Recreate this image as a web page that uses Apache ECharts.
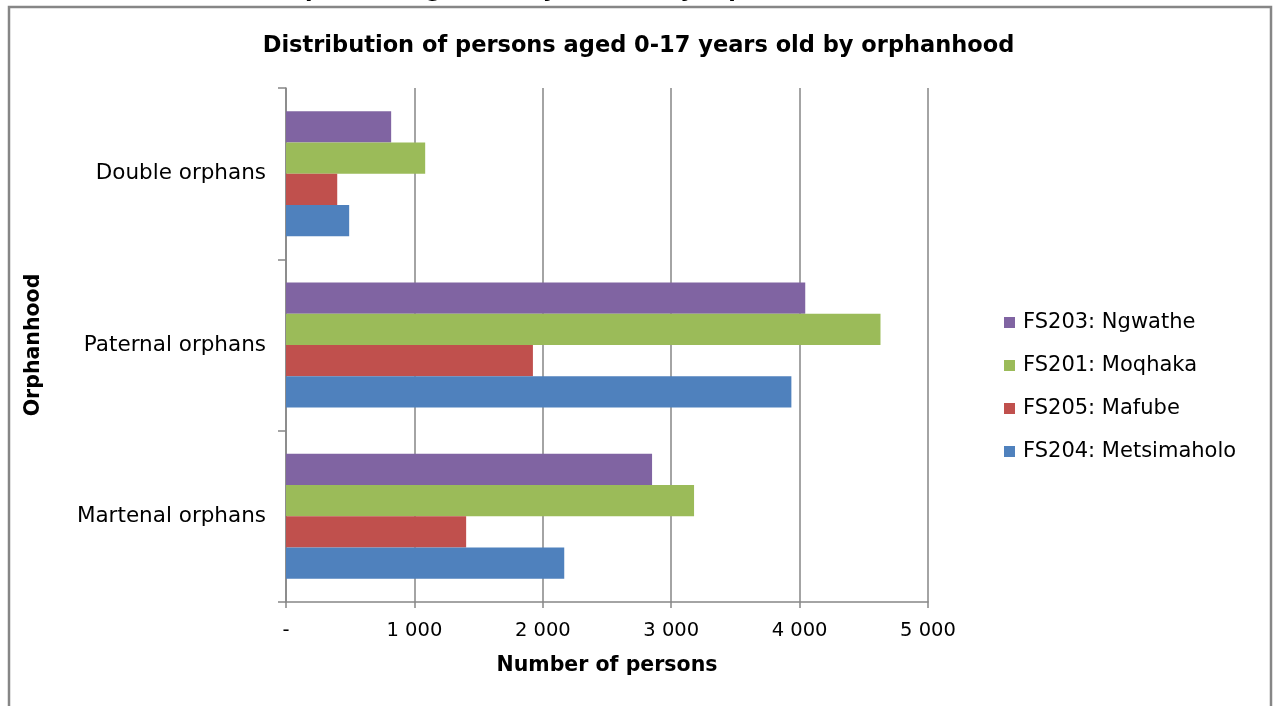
<!DOCTYPE html>
<html>
<head>
<meta charset="utf-8">
<script src="https://cdn.jsdelivr.net/npm/echarts@6/dist/echarts.min.js"></script>
<style>
  html, body { margin: 0; padding: 0; background: #ffffff; }
  #chart { width: 1277px; height: 706px; }
</style>
</head>
<body>
<div id="chart"></div>
<script>
// Orphanhood categories, listed bottom to top along the vertical axis
const categories = ['Martenal orphans', 'Paternal orphans', 'Double orphans'];

// Number of persons aged 0-17 per municipality, in category order
const ngwathe     = [2851, 4044, 819];
const moqhaka     = [3178, 4630, 1084];
const mafube      = [1403, 1923, 399];
const metsimaholo = [2167, 3936, 492];

// Series are drawn top to bottom inside each category band
const seriesNames = ['FS203: Ngwathe', 'FS201: Moqhaka', 'FS205: Mafube', 'FS204: Metsimaholo'];
const seriesValues = [ngwathe, moqhaka, mafube, metsimaholo];
const seriesColors = ['#8064A2', '#9BBB59', '#C0504D', '#4F81BD'];

const xTickMax = 5000;
const xTickStep = 1000;

const titleText = 'Distribution of persons aged 0-17 years old by orphanhood';

const FONT = '"DejaVu Sans", "Liberation Sans", Arial, sans-serif';
const GREY = '#868686';

function formatThousands(v) {
  if (v === 0) return '-';
  return String(v).replace(/\B(?=(\d{3})+(?!\d))/g, ' ');
}

const chart = echarts.init(document.getElementById('chart'), null, { renderer: 'canvas' });

chart.setOption({
  backgroundColor: '#ffffff',
  animation: false,
  title: {
    text: titleText,
    left: 'center',
    top: 30,
    textStyle: { fontFamily: FONT, fontSize: 22.5, fontWeight: 'bold', color: '#000000' }
  },
  graphic: [
    {
      // caption of the page section, running above the chart frame
      type: 'text',
      left: 117,
      top: -20,
      style: {
        text: titleText,
        font: 'bold 22px ' + FONT,
        fill: '#000000'
      }
    },
    {
      type: 'rect',
      shape: { x: 9, y: 7, width: 1262, height: 720 },
      style: { fill: 'none', stroke: GREY, lineWidth: 2.5 },
      z: 100
    }
  ],
  legend: {
    orient: 'vertical',
    left: 999,
    top: 307,
    data: seriesNames,
    icon: 'rect',
    itemWidth: 11,
    itemHeight: 11,
    itemGap: 22,
    textStyle: { fontFamily: FONT, fontSize: 21, color: '#000000', padding: [0, 0, 0, 3] }
  },
  grid: {
    left: 286,
    right: 349,
    top: 88,
    bottom: 104,
    containLabel: false
  },
  xAxis: {
    type: 'value',
    min: 0,
    max: xTickMax,
    interval: xTickStep,
    name: 'Number of persons',
    nameLocation: 'middle',
    nameGap: 53,
    nameTextStyle: { fontFamily: FONT, fontSize: 20.5, fontWeight: 'bold', color: '#000000' },
    axisLine: { show: true, lineStyle: { color: GREY, width: 1.5 } },
    axisTick: { show: true, length: 6, lineStyle: { color: GREY, width: 1.5 } },
    splitLine: { show: true, lineStyle: { color: GREY, width: 1.5 } },
    axisLabel: {
      fontFamily: FONT,
      fontSize: 19.5,
      color: '#000000',
      margin: 19,
      formatter: formatThousands
    }
  },
  yAxis: {
    type: 'category',
    data: categories,
    name: 'Orphanhood',
    nameLocation: 'middle',
    nameRotate: 90,
    nameGap: 242,
    nameTextStyle: { fontFamily: FONT, fontSize: 20.5, fontWeight: 'bold', color: '#000000' },
    axisLine: { show: true, lineStyle: { color: GREY, width: 1.5 } },
    axisTick: { show: true, length: 8, lineStyle: { color: GREY, width: 1.5 } },
    axisLabel: { fontFamily: FONT, fontSize: 21.5, color: '#000000', margin: 20 }
  },
  series: seriesNames.map((name, i) => ({
    name: name,
    type: 'bar',
    zlevel: 1,
    data: seriesValues[i],
    barGap: '0%',
    barCategoryGap: '27%',
    itemStyle: { color: seriesColors[i], opacity: 1 }
  }))
});
</script>
</body>
</html>
